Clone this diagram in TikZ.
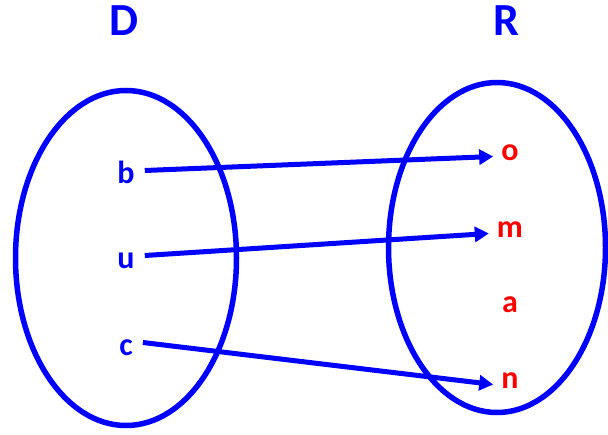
\documentclass[tikz,border=0pt]{standalone}
\usepackage{fontspec}
\setmainfont{Carlito}
\usepackage{tikz}
\usetikzlibrary{arrows.meta, shapes.geometric, positioning}
\definecolor{SetBlue}{RGB}{0,0,255}
\definecolor{ElemRed}{RGB}{255,0,0}

\begin{document}
\begin{tikzpicture}[x=1pt,y=-1pt,
        setbox/.style={ellipse,draw=SetBlue,line width=5.5pt,inner sep=0pt},
        ttl/.style={font=\bfseries\fontsize{46}{50}\selectfont,text=SetBlue,anchor=base},
        dom/.style={font=\bfseries\fontsize{32}{36}\selectfont,text=SetBlue,anchor=base,
                    inner xsep=10pt,inner ysep=0pt,text height=25pt,text depth=0pt},
        rng/.style={font=\bfseries\fontsize{32}{36}\selectfont,text=ElemRed,anchor=base,
                    inner xsep=8pt,inner ysep=0pt,text height=7pt,text depth=0pt},
        arr/.style={-{Triangle[length=14pt,width=15pt]},SetBlue,line width=5pt}
      ]
        \useasboundingbox (0,0) rectangle (608,434);
        % the two sets
        \node[setbox,minimum width=221pt,minimum height=335pt] (D) at (126,258) {};
        \node[setbox,minimum width=217pt,minimum height=330pt] (R) at (497,247.5) {};
        \node[ttl] (Dlbl) at (124,35) {D};
        \node[ttl] (Rlbl) at (506,35) {R};
        % domain
        \node[dom] (b) at (126,183) {b};
        \node[dom] (u) at (126,268) {u};
        \node[dom] (c) at (126,355) {c};
        % range
        \node[rng] (o) at (510,160) {o};
        \node[rng] (m) at (510,237) {m};
        \node[rng] (a) at (510,312) {a};
        \node[rng] (n) at (510,388) {n};
        \draw[arr] (b.east)--(o.west);
        \draw[arr] (u.east)--(m.west);
        \draw[arr] (c.east)--(n.west);
      \end{tikzpicture}
\end{document}
